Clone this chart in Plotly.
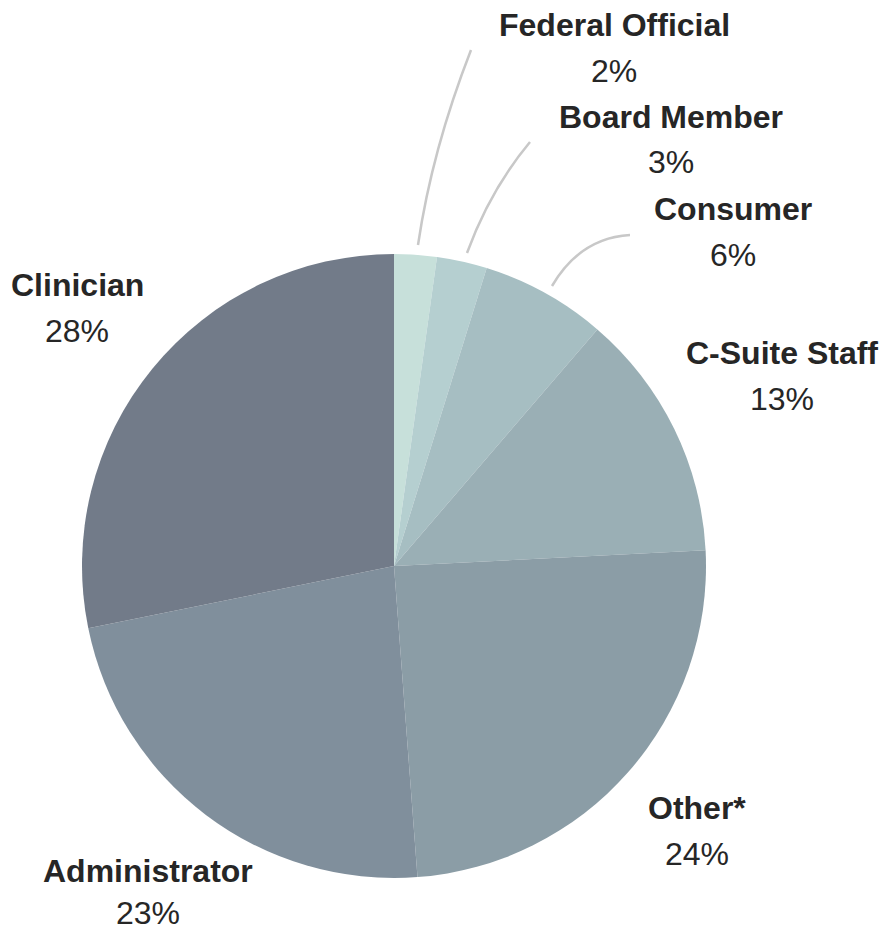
import plotly.graph_objects as go

categories = ["Federal Official", "Board Member", "Consumer", "C-Suite Staff", "Other*", "Administrator", "Clinician"]
values = [2.2, 2.6, 6.5, 12.9, 24.6, 23.0, 28.2]
pct_labels = ["2%", "3%", "6%", "13%", "24%", "23%", "28%"]
colors = ["#c7e0da", "#b5cfd0", "#a6bec2", "#9aafb5", "#8b9da6", "#808f9c", "#727b89"]

W, H = 885, 932
# label anchor positions in pixels (name centre x, name centre y, pct centre y)
label_pos = [
    (614, 25, 71),
    (671, 117, 162),
    (733, 209, 255),
    (782, 353, 399),
    (697, 808, 854),
    (148, 871, 913),
    (77, 285, 331),
]
# leader lines (pixel coords): start, control, end
leaders = [
    ((418, 245), (432, 150), (471, 50)),
    ((467, 253), (490, 190), (530, 142)),
    ((552, 286), (580, 238), (630, 235)),
]

cx, cy, r = 394, 566, 312

fig = go.Figure(go.Pie(
    labels=categories, values=values, sort=False, direction="clockwise", rotation=0,
    marker=dict(colors=colors, line=dict(width=0)), textinfo="none", hoverinfo="label+percent",
    domain=dict(x=[(cx - r) / W, (cx + r) / W], y=[(H - cy - r) / H, (H - cy + r) / H]),
    showlegend=False,
))

def px(x):
    return x / W

def py(y):
    return 1 - y / H

FONT = "Liberation Sans, Arial"
annotations = []
for name, pct, (x, y1, y2) in zip(categories, pct_labels, label_pos):
    annotations.append(dict(x=px(x), y=py(y1), xref="paper", yref="paper", text="<b>%s</b>" % name,
                            showarrow=False, xanchor="center", yanchor="middle", borderpad=0,
                            font=dict(family=FONT, size=32, color="#262626")))
    annotations.append(dict(x=px(x), y=py(y2), xref="paper", yref="paper", text=pct,
                            showarrow=False, xanchor="center", yanchor="middle", borderpad=0,
                            font=dict(family=FONT, size=32, color="#262626")))

shapes = []
for (s, c, e) in leaders:
    path = "M %f,%f Q %f,%f %f,%f" % (px(s[0]), py(s[1]), px(c[0]), py(c[1]), px(e[0]), py(e[1]))
    shapes.append(dict(type="path", path=path, xref="paper", yref="paper",
                       line=dict(color="#c8c8c8", width=2.5)))

fig.update_layout(width=W, height=H, margin=dict(l=0, r=0, t=0, b=0),
                  paper_bgcolor="white", plot_bgcolor="white",
                  annotations=annotations, shapes=shapes)

fig.write_html("out.html")
